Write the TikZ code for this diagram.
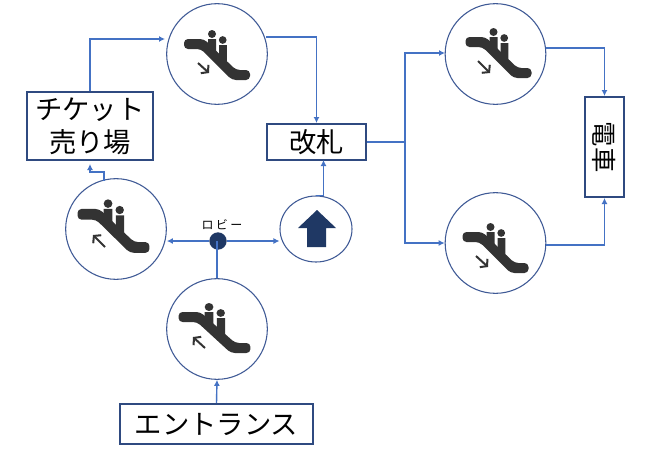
\documentclass[tikz,border=0pt]{standalone}
\usepackage{fontspec}
\setmainfont{Noto Sans CJK JP}
\usetikzlibrary{arrows.meta,calc,shapes.geometric}
\definecolor{conn}{HTML}{4472C4}
\definecolor{ring}{HTML}{3F5A96}
\definecolor{navy}{HTML}{1F3864}
\definecolor{boxline}{HTML}{2F4A80}
\definecolor{esc}{HTML}{333333}
\tikzset{
  x=0.75pt,y=-0.75pt,
  stationbox/.style={draw=boxline,line width=1.5pt,fill=white,inner sep=0pt,align=center,font=\fontsize{20.5}{25}\selectfont},
  ringnode/.style={circle,draw=ring,line width=0.8pt,fill=white,inner sep=0pt,minimum size=75.5pt},
  link/.style={draw=conn,line width=1.05pt,-{Latex[length=4.5pt,width=4.5pt]}},
  plainlink/.style={draw=conn,line width=1.3pt},
  pics/escalator/.style={code={
    \fill[esc] (-9,-15) -- (-1,-15) -- (-1,2) -- (-9,-6) -- cycle;
    \fill[esc] (2.2,-9) -- (9.8,-9) -- (9.8,14) -- (2.2,7) -- cycle;
    \fill[esc] (-5,-20) circle (3pt);
    \fill[esc] (5.7,-14) circle (2.9pt);
    \fill[esc,rounded corners=3pt] (-33,-15) -- (-13,-15) -- (19,16) -- (33,16) -- (33,26) -- (15,26) -- (-16,-5) -- (-33,-5) -- cycle;
  }},
  escarrow/.style={esc,line width=1.5pt,-{Straight Barb[length=3.5pt,width=8.5pt]}}
}
\begin{document}
\begin{tikzpicture}
\useasboundingbox (0,0) rectangle (654,450);
\fill[white] (0,0) rectangle (654,450);
% places
\node[stationbox,minimum width=94.5pt,minimum height=51pt] (ticket) at (90,126) {チケット\\売り場};
\node[stationbox,minimum width=74pt,minimum height=27pt] (gate) at (316.5,142) {改札};
\node[stationbox,minimum width=29pt,minimum height=75pt,font=\fontsize{19}{21}\selectfont] (train) at (604.5,147) {\rotatebox{-90}{電車}};
\node[stationbox,minimum width=145pt,minimum height=30pt] (entrance) at (216.5,424) {エントランス};
\node[ringnode] (ctop) at (217,54) {};
\node[ringnode] (cleft) at (116,229) {};
\node[ringnode] (cbottom) at (217,329) {};
\node[ringnode] (cr1) at (495.5,54) {};
\node[ringnode] (cr2) at (495.5,243) {};
\node[ellipse,draw=ring,line width=0.8pt,fill=white,inner sep=0pt,minimum width=54pt,minimum height=49.5pt] (cup) at (316,229) {};
\node[circle,fill=navy,minimum size=13pt,inner sep=0pt] (lobby) at (218,241) {};
\node[font=\fontsize{9}{11}\selectfont\addfontfeature{LetterSpace=20},inner sep=0pt] (lobbytext) at (222,225) {ロビー};
\coordinate (split) at (405,142);
\coordinate (ctopin) at (165,39);
\coordinate (ctopout) at (266,37);
\coordinate (cr1in) at (445,53);
\coordinate (cr1out) at (546,48);
\coordinate (cr2out) at (546,245);
\coordinate (cupgate) at (323.5,160);
\coordinate (clefttop) at (104,181);
\coordinate (ticketin) at (90,164);
% symbols
\path (ctop) pic {escalator};
\path (cr1) +(3,-2) pic {escalator};
\path (cr2) +(0,4) pic {escalator};
\path (cleft) +(-2.5,-4) pic[xscale=1.09,yscale=1.07] {escalator};
\path (cbottom) +(-2.5,-2) pic[xscale=1.09] {escalator};
\draw[escarrow] (198,63) -- (209,73);
\draw[escarrow] (478,61) -- (490,73);
\draw[escarrow] (476,256) -- (488,267);
\draw[escarrow] (105,247) -- (93,235);
\draw[escarrow] (205,348) -- (193,337);
\fill[navy] (317,210) -- (336,228) -- (326,228) -- (326,247) -- (307,247) -- (307,228) -- (298,228) -- cycle;
% connectors
\draw[link] (ticket.north) |- (ctopin);
\draw[link] (ctopout) -| (gate.north);
\draw[link] (gate.east) -- (split) |- (cr1in);
\draw[link] (split) |- (cr2.west);
\draw[link] (cr1out) -| (train.north);
\draw[link] (cr2out) -| (train.south);
\draw[link] (cup.north) -| (cupgate);
\draw[link] (clefttop) -- ++(0,-9) -| (ticketin);
\draw[link] (lobby) -- (cleft.east |- lobby);
\draw[link] (lobby) -- (cup.west |- lobby);
\draw[plainlink] (cbottom.north) -- (cbottom.north |- lobby);
\draw[link] (entrance.north) -- (cbottom.south);
\end{tikzpicture}
\end{document}
